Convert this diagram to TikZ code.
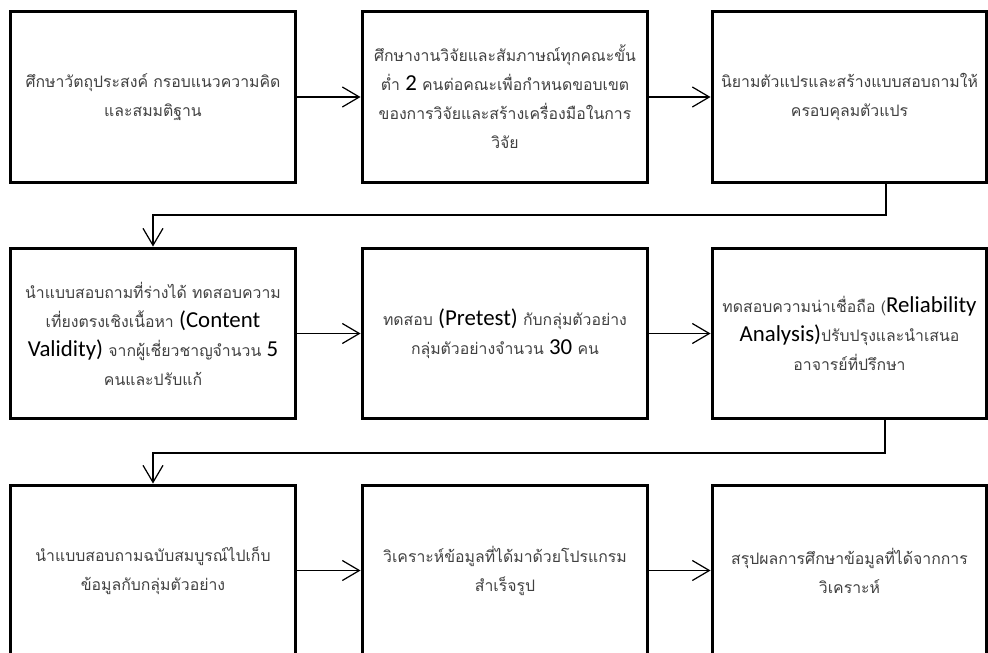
\documentclass[tikz,border=0pt]{standalone}
\usepackage{fontspec}
\setmainfont{Carlito}
\newfontfamily\thaifont[Script=Thai]{Loma}
\usetikzlibrary{positioning, arrows.meta}

\newcommand{\lat}[1]{{\normalfont\color{black}\fontsize{13}{16.5}\selectfont #1}}

\begin{document}
\begin{tikzpicture}[x=0.02cm, y=-0.02cm,
    box/.style={draw=black, line width=1.7pt, minimum width=5.72cm, minimum height=3.42cm,
        text width=5.45cm, align=center, text=black!75,
        font=\thaifont\fontsize{9}{16.5}\selectfont, inner sep=2pt},
    lastbox/.style={box, minimum width=5.5cm, text width=5.35cm},
    conn/.style={line width=0.7pt, -{Straight Barb[length=0.34cm, width=0.4cm]}}]
    \useasboundingbox (0,0) rectangle (988,653);
    \clip (0,0) rectangle (988,653);

    % row 1
    \node[box] (b1) at (153, 97) {ศึกษาวัตถุประสงค์ กรอบแนวความคิด\\และสมมติฐาน};
    \node[box] (b2) at (505, 97) {ศึกษางานวิจัยและสัมภาษณ์ทุกคณะขั้น\\ต่ำ \lat{2} คนต่อคณะเพื่อกำหนดขอบเขต\\ของการวิจัยและสร้างเครื่องมือในการ\\วิจัย};
    \node[lastbox] (b3) at (849.5, 97) {นิยามตัวแปรและสร้างแบบสอบถามให้\\ครอบคุลมตัวแปร};

    % row 2
    \node[box] (b4) at (153, 333.5) {นำแบบสอบถามที่ร่างได้ ทดสอบความ\\เที่ยงตรงเชิงเนื้อหา \lat{(Content}\\\lat{Validity)} จากผู้เชี่ยวชาญจำนวน \lat{5}\\คนและปรับแก้};
    \node[box] (b5) at (505, 333.5) {ทดสอบ \lat{(Pretest)} กับกลุ่มตัวอย่าง\\กลุ่มตัวอย่างจำนวน \lat{30} คน};
    \node[lastbox] (b6) at (849.5, 333.5) {ทดสอบความน่าเชื่อถือ (\lat{Reliability}\\\lat{Analysis)}ปรับปรุงและนำเสนอ\\อาจารย์ที่ปรึกษา};

    % row 3
    \node[box] (b7) at (153, 570.5) {นำแบบสอบถามฉบับสมบูรณ์ไปเก็บ\\ข้อมูลกับกลุ่มตัวอย่าง};
    \node[box] (b8) at (505, 570.5) {วิเคราะห์ข้อมูลที่ได้มาด้วยโปรแกรม\\สำเร็จรูป};
    \node[lastbox] (b9) at (849.5, 570.5) {สรุปผลการศึกษาข้อมูลที่ได้จากการ\\วิเคราะห์};

    \coordinate (k1) at (886, 215);
    \coordinate (k2) at (885, 453);

    \draw[conn] (b1) -- (b2);
    \draw[conn] (b2) -- (b3);
    \draw[conn] (b3.south -| k1) -- (k1) -| (b4.north);
    \draw[conn] (b4) -- (b5);
    \draw[conn] (b5) -- (b6);
    \draw[conn] (b6.south -| k2) -- (k2) -| (b7.north);
    \draw[conn] (b7) -- (b8);
    \draw[conn] (b8) -- (b9);
\end{tikzpicture}
\end{document}
